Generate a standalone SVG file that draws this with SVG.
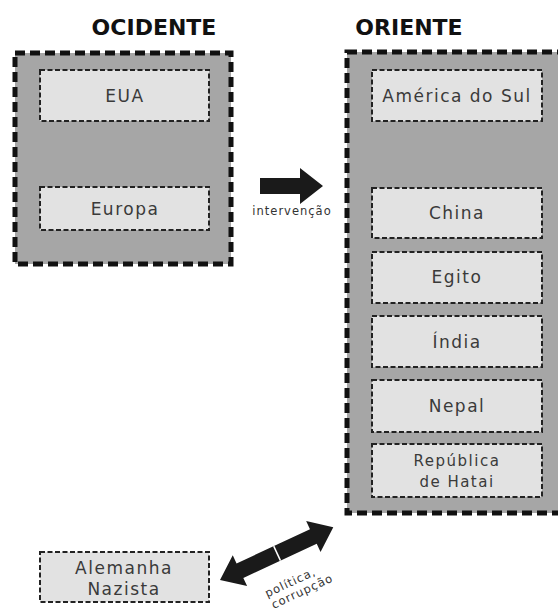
<svg xmlns="http://www.w3.org/2000/svg" width="558" height="613" viewBox="0 0 558 613">
<style>
.outer{fill:#a6a6a6;stroke:#111;stroke-width:5;stroke-dasharray:10 5}
.inner{fill:#e2e2e2;stroke:#222;stroke-width:2;stroke-dasharray:5 2.5}
.lbl{font-family:"DejaVu Sans",sans-serif;font-size:17px;fill:#3a3a3a;text-anchor:middle;letter-spacing:1.5px}
.sm{font-family:"DejaVu Sans",sans-serif;font-size:15px;fill:#3a3a3a;text-anchor:middle;letter-spacing:1.5px}
.title{font-family:"DejaVu Sans",sans-serif;font-weight:bold;font-size:22px;fill:#111;text-anchor:middle}
.tiny{font-family:"DejaVu Sans",sans-serif;font-size:11.5px;fill:#333;text-anchor:middle;letter-spacing:1px}
.arrow{fill:#1a1a1a}
</style>
<rect width="558" height="613" fill="#fff"/>
<g id="ocidente">
<text class="title" x="154" y="35">OCIDENTE</text>
<rect class="outer" x="15" y="53" width="216" height="211"/>
</g>
<g id="oriente">
<text class="title" x="409" y="35">ORIENTE</text>
<rect class="outer" x="347" y="52" width="222" height="461"/>
</g>
<g id="eua"><rect class="inner" x="40" y="70" width="169" height="51"/><text class="lbl" x="125" y="102">EUA</text></g>
<g id="europa"><rect class="inner" x="40" y="187" width="169" height="43"/><text class="lbl" x="125" y="215">Europa</text></g>
<g id="america"><rect class="inner" x="372" y="70" width="170" height="51"/><text class="lbl" x="457" y="102">América do Sul</text></g>
<g id="china"><rect class="inner" x="372" y="188" width="170" height="50"/><text class="lbl" x="457" y="219">China</text></g>
<g id="egito"><rect class="inner" x="372" y="252" width="170" height="51"/><text class="lbl" x="457" y="283">Egito</text></g>
<g id="india"><rect class="inner" x="372" y="316" width="170" height="51"/><text class="lbl" x="457" y="348">Índia</text></g>
<g id="nepal"><rect class="inner" x="372" y="380" width="170" height="52"/><text class="lbl" x="457" y="412">Nepal</text></g>
<g id="hatai"><rect class="inner" x="372" y="444" width="170" height="53"/><text class="sm" x="457" y="466">República</text><text class="sm" x="457" y="487">de Hatai</text></g>
<g id="alemanha"><rect class="inner" x="40" y="552" width="169" height="50"/><text class="lbl" x="124" y="574">Alemanha</text><text class="lbl" x="124" y="595">Nazista</text></g>
<g id="connectors">
<polygon class="arrow" points="260,178 300,178 300,168 323,186 300,204 300,194 260,194"/>
<text class="tiny" x="292" y="215">intervenção</text>
<g transform="translate(220,580) rotate(-25)">
<polygon class="arrow" points="0,0 22,-17 22,-8 103,-8 103,-17 125,0 103,17 103,8 22,8 22,17"/>
<line x1="63" y1="-8" x2="63" y2="8" stroke="#fff" stroke-width="1.5"/>
</g>
<g transform="translate(292,586) rotate(-25)">
<text class="tiny" x="0" y="0">política,</text>
<text class="tiny" x="7" y="13">corrupção</text>
</g>
</g>
</svg>
